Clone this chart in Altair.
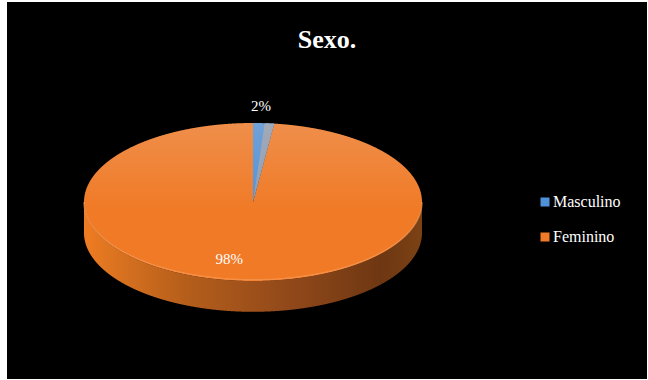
import numpy as np
import pandas as pd
import altair as alt

# ---- data ----
categories = ["Masculino", "Feminino"]
values = [2, 98]
pct_labels = ["2%", "98%"]
colors = ["#4F92DA", "#F07A26"]

# ---- geometry derived from the data (unit ellipse, stretched by the scales) ----
total = sum(values)
theta = values[0] / total * 2 * np.pi          # angle of the small slice (clockwise from 12 o'clock)
shade = theta * 0.55                           # inner wall shading of the small slice
depth = 0.39                                   # thickness of the 3D disc in unit-y

phi = np.linspace(-np.pi / 2, np.pi / 2, 1441)
xs = np.unique(np.concatenate([np.sin(phi), [0.0, -1e-9, np.sin(theta), np.sin(shade)]]))
top = np.sqrt(np.clip(1 - xs ** 2, 0, None))
bot = -top

with np.errstate(divide="ignore"):
    line_big = np.where(xs < 0, top, np.minimum(top, xs / np.tan(theta)))

face_big = pd.DataFrame({"x": xs, "y": bot, "y2": line_big, "cat": categories[1]})

xw = xs[(xs >= 0) & (xs <= np.sin(theta) + 1e-12)]
tw = np.sqrt(np.clip(1 - xw ** 2, 0, None))
face_small = pd.DataFrame({"x": xw, "y": xw / np.tan(theta), "y2": tw, "cat": categories[0]})
wall = pd.DataFrame({"x": xw, "y": xw / np.tan(theta),
                     "y2": np.minimum(tw, xw / np.tan(shade))})

side = pd.DataFrame({"x": xs, "y": bot, "y2": bot - depth})
face_all = pd.DataFrame({"x": xs, "y": bot, "y2": top})
rim = pd.DataFrame({"x": xs, "y": bot * 0.985})

# label positions from slice mid-angles
mids = []
acc = 0
for v in values:
    mids.append((acc + v / 2) / total * 2 * np.pi)
    acc += v
radial = [1.22, 0.72]
lab = pd.DataFrame({
    "label": pct_labels,
    "x": [np.sin(m) * r for m, r in zip(mids, radial)],
    "y": [np.cos(m) * r for m, r in zip(mids, radial)],
})

# ---- scales: map unit ellipse to pixel ellipse ----
W, H = 640, 377
cx, cy, rx, ry = 246, 200, 169, 79
xdom = [-cx / rx, (W - cx) / rx]
ydom = [-(H - cy) / ry, cy / ry]
X = lambda f="x": alt.X(f"{f}:Q", scale=alt.Scale(domain=xdom, nice=False, zero=False), axis=None)
Y = lambda f="y": alt.Y(f"{f}:Q", scale=alt.Scale(domain=ydom, nice=False, zero=False), axis=None)

color = alt.Color(
    "cat:N",
    scale=alt.Scale(domain=categories, range=colors),
    legend=alt.Legend(
        title=None, orient="none", legendX=530, legendY=192,
        symbolType="square", symbolSize=81, symbolStrokeWidth=0,
        labelFont="Liberation Serif", labelFontSize=16, labelColor="white",
        labelOffset=0, rowPadding=19, padding=0,
    ),
)

side_layer = alt.Chart(side).mark_area(
    color=alt.Gradient(
        gradient="linear", x1=0, x2=1, y1=0, y2=0,
        stops=[
            alt.GradientStop(color="#F07C22", offset=0),
            alt.GradientStop(color="#DD7420", offset=0.08),
            alt.GradientStop(color="#B55E1B", offset=0.3),
            alt.GradientStop(color="#92491A", offset=0.6),
            alt.GradientStop(color="#6E3712", offset=0.88),
            alt.GradientStop(color="#7C4215", offset=1),
        ],
    )
).encode(x=X(), y=Y(), y2="y2:Q")

big_layer = alt.Chart(face_big).mark_area().encode(x=X(), y=Y(), y2="y2:Q", color=color)
small_layer = alt.Chart(face_small).mark_area().encode(x=X(), y=Y(), y2="y2:Q", color=color)
wall_layer = alt.Chart(wall).mark_area(color="#8E9DB2").encode(x=X(), y=Y(), y2="y2:Q")

light_layer = alt.Chart(face_all).mark_area(
    color=alt.Gradient(
        gradient="linear", x1=0, x2=0, y1=0, y2=1,
        stops=[
            alt.GradientStop(color="rgba(235,215,205,0.22)", offset=0),
            alt.GradientStop(color="rgba(235,215,205,0.0)", offset=0.55),
            alt.GradientStop(color="rgba(235,215,205,0.0)", offset=1),
        ],
    )
).encode(x=X(), y=Y(), y2="y2:Q")

rim_layer = alt.Chart(rim).mark_line(color="#F9A060", strokeWidth=1.5, opacity=0.55).encode(x=X(), y=Y())

txt = dict(font="Liberation Serif", fontSize=15, color="white", align="center", baseline="middle")
lab_small = alt.Chart(lab).transform_filter(alt.datum.label == pct_labels[0]).mark_text(dx=-5, **txt).encode(
    x=X(), y=Y(), text="label:N")
lab_big = alt.Chart(lab).transform_filter(alt.datum.label == pct_labels[1]).mark_text(dx=-16, **txt).encode(
    x=X(), y=Y(), text="label:N")

chart = alt.layer(
    side_layer, big_layer, small_layer, wall_layer, light_layer, rim_layer, lab_small, lab_big
).properties(
    width=W, height=H,
    autosize=alt.AutoSizeParams(type="none"),
    padding={"left": 7, "top": 2, "right": 1, "bottom": 1},
    background="white",
    title=alt.TitleParams(
        "Sexo.", font="Liberation Serif", fontSize=26, fontWeight="bold", color="white",
        anchor="middle", baseline="alphabetic", offset=0, dy=72,
    ),
).configure_view(fill="black", strokeWidth=0)

chart.save("out.html", embed_options={"renderer": "svg", "actions": False})
